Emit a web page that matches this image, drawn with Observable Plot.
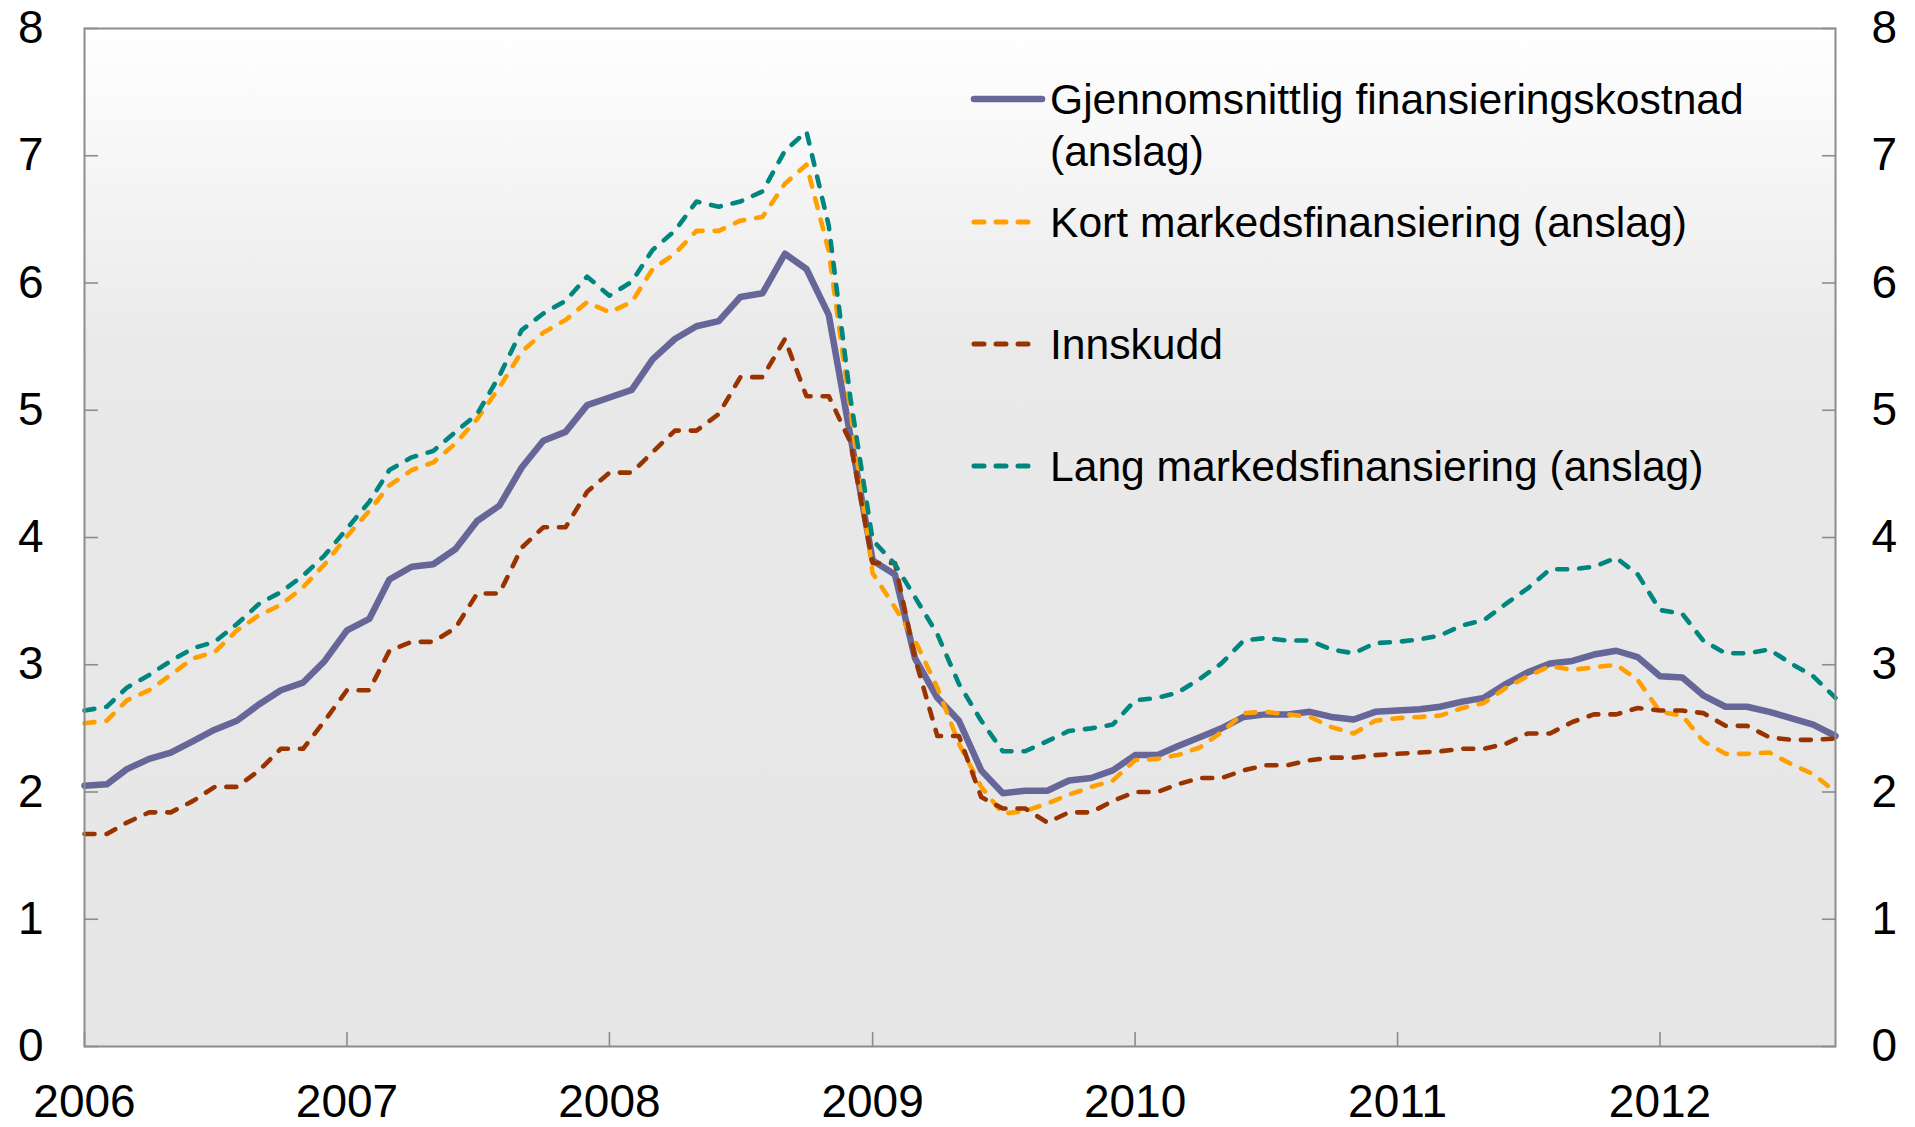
<!DOCTYPE html>
<html>
<head>
<meta charset="utf-8">
<script src="https://cdn.jsdelivr.net/npm/d3@7"></script>
<script src="https://cdn.jsdelivr.net/npm/@observablehq/plot@0.6"></script>
<style>
html, body { margin: 0; padding: 0; background: #ffffff; }
#wrap { position: relative; width: 1915px; height: 1127px; font-family: "Liberation Sans", Arial, sans-serif; }
.leg { position: absolute; left: 970px; font-size: 42.6px; line-height: 52px; color: #000; display: flex; align-items: flex-start; white-space: nowrap; }
.leg svg { flex: none; margin-top: 21px; margin-right: 4px; }
</style>
</head>
<body>
<div id="wrap"></div>
<script>
// Monthly observations, Jan 2006 – Sep 2012 (per cent)
const startMonth = "2006-01";
const gjennomsnitt = [
  2.05, 2.06, 2.18, 2.26, 2.31, 2.40, 2.49, 2.56, 2.69, 2.80, 2.86, 3.03,
  3.27, 3.36, 3.67, 3.77, 3.79, 3.91, 4.13, 4.25, 4.55, 4.76, 4.83, 5.04,
  5.10, 5.16, 5.40, 5.56, 5.66, 5.70, 5.89, 5.92, 6.23, 6.11, 5.75, 4.80,
  3.82, 3.71, 3.05, 2.74, 2.56, 2.17, 1.99, 2.01, 2.01, 2.09, 2.11, 2.17,
  2.29, 2.29, 2.36, 2.43, 2.50, 2.59, 2.61, 2.61, 2.63, 2.59, 2.57, 2.63,
  2.64, 2.65, 2.67, 2.71, 2.74, 2.85, 2.94, 3.01, 3.03, 3.08, 3.11, 3.06,
  2.91, 2.90, 2.76, 2.67, 2.67, 2.63, 2.58, 2.53, 2.44
];
const kort = [
  2.54, 2.56, 2.72, 2.80, 2.92, 3.05, 3.10, 3.27, 3.39, 3.47, 3.61, 3.79,
  4.01, 4.21, 4.41, 4.53, 4.59, 4.74, 4.93, 5.18, 5.46, 5.61, 5.71, 5.85,
  5.77, 5.85, 6.11, 6.23, 6.41, 6.41, 6.49, 6.52, 6.78, 6.93, 6.25, 5.00,
  3.72, 3.45, 3.19, 2.82, 2.38, 2.04, 1.83, 1.85, 1.91, 1.98, 2.04, 2.09,
  2.25, 2.26, 2.29, 2.35, 2.47, 2.62, 2.63, 2.61, 2.59, 2.51, 2.46, 2.56,
  2.58, 2.59, 2.60, 2.66, 2.70, 2.82, 2.91, 2.99, 2.96, 2.98, 3.00, 2.88,
  2.63, 2.60, 2.40, 2.30, 2.30, 2.31, 2.22, 2.14, 2.00
];
const innskudd = [
  1.67, 1.67, 1.76, 1.84, 1.84, 1.93, 2.04, 2.04, 2.17, 2.34, 2.34, 2.56,
  2.80, 2.80, 3.11, 3.18, 3.18, 3.29, 3.56, 3.56, 3.92, 4.08, 4.08, 4.36,
  4.51, 4.51, 4.67, 4.84, 4.84, 4.97, 5.26, 5.26, 5.56, 5.11, 5.11, 4.75,
  3.80, 3.80, 3.05, 2.44, 2.44, 1.96, 1.87, 1.87, 1.76, 1.84, 1.84, 1.93,
  2.00, 2.00, 2.06, 2.11, 2.11, 2.17, 2.21, 2.21, 2.25, 2.27, 2.27, 2.29,
  2.30, 2.31, 2.32, 2.34, 2.34, 2.38, 2.46, 2.46, 2.55, 2.61, 2.61, 2.66,
  2.64, 2.64, 2.62, 2.52, 2.52, 2.43, 2.41, 2.41, 2.42
];
const lang = [
  2.64, 2.67, 2.82, 2.92, 3.03, 3.13, 3.18, 3.32, 3.48, 3.57, 3.70, 3.86,
  4.07, 4.28, 4.53, 4.63, 4.68, 4.83, 4.97, 5.27, 5.63, 5.76, 5.86, 6.05,
  5.90, 6.01, 6.26, 6.41, 6.64, 6.60, 6.64, 6.72, 7.04, 7.19, 6.45, 5.10,
  3.98, 3.79, 3.53, 3.24, 2.85, 2.56, 2.32, 2.32, 2.40, 2.48, 2.50, 2.53,
  2.72, 2.74, 2.78, 2.89, 3.01, 3.19, 3.21, 3.19, 3.19, 3.12, 3.09, 3.17,
  3.18, 3.20, 3.23, 3.31, 3.35, 3.48, 3.60, 3.75, 3.75, 3.77, 3.84, 3.71,
  3.43, 3.40, 3.19, 3.09, 3.09, 3.12, 3.01, 2.91, 2.74
];
const seriesNames = [
  "Gjennomsnittlig finansieringskostnad (anslag)",
  "Kort markedsfinansiering (anslag)",
  "Innskudd",
  "Lang markedsfinansiering (anslag)"
];
const legendLines = [
  ["Gjennomsnittlig finansieringskostnad", "(anslag)"],
  ["Kort markedsfinansiering (anslag)"],
  ["Innskudd"],
  ["Lang markedsfinansiering (anslag)"]
];
const seriesColors = ["#666699", "#ffa000", "#993300", "#00857f"];
const xTickYears = ["2006", "2007", "2008", "2009", "2010", "2011", "2012"];
const yTicks = [0, 1, 2, 3, 4, 5, 6, 7, 8];

// build tidy table
const start = d3.utcParse("%Y-%m")(startMonth);
const allSeries = [gjennomsnitt, kort, innskudd, lang];
const table = [];
allSeries.forEach((vals, s) => vals.forEach((v, i) => table.push({
  date: d3.utcMonth.offset(start, i), value: v, series: seriesNames[s]
})));
const xTicks = xTickYears.map(y => d3.utcParse("%Y")(y));
const endDate = d3.utcMonth.offset(start, gjennomsnitt.length - 1);

const font = "Liberation Sans, Arial, sans-serif";
const frameColor = "#8c8c8c";

const lineMark = (s, opts) => Plot.line(table.filter(d => d.series === seriesNames[s]), {
  x: "date", y: "value", stroke: seriesColors[s], strokeLinejoin: "round", ...opts
});

const chart = Plot.plot({
  width: 1915,
  height: 1127,
  marginLeft: 84,
  marginRight: 80,
  marginTop: 28,
  marginBottom: 81,
  style: { fontFamily: font, background: "transparent", color: "#000" },
  x: { type: "utc", domain: [start, endDate] },
  y: { domain: [0, 8] },
  marks: [
    Plot.frame({ fill: "url(#bgGrad)", stroke: null }),
    lineMark(0, { strokeWidth: 6.5, strokeLinecap: "round" }),
    lineMark(1, { strokeWidth: 4.6, strokeDasharray: "10,12", strokeLinecap: "round" }),
    lineMark(2, { strokeWidth: 4.6, strokeDasharray: "10,12", strokeLinecap: "round" }),
    lineMark(3, { strokeWidth: 4.6, strokeDasharray: "10,12", strokeLinecap: "round" }),
    Plot.frame({ stroke: frameColor, strokeWidth: 2 }),
    // inward tick marks
    Plot.axisY(yTicks, { anchor: "left", tickSize: 14, dx: 14, tickFormat: () => "", stroke: frameColor, strokeWidth: 1.6, label: null }),
    Plot.axisY(yTicks, { anchor: "right", tickSize: 14, dx: -14, tickFormat: () => "", stroke: frameColor, strokeWidth: 1.6, label: null }),
    Plot.axisX(xTicks, { anchor: "bottom", tickSize: 14, dy: -14, tickFormat: () => "", stroke: frameColor, strokeWidth: 1.6, label: null }),
    // tick labels
    Plot.axisY(yTicks, { anchor: "left", tickSize: 0, tickPadding: 41, fontSize: 46, label: null, tickFormat: d => String(d) }),
    Plot.axisY(yTicks, { anchor: "right", tickSize: 0, tickPadding: 36, fontSize: 46, label: null, tickFormat: d => String(d) }),
    Plot.axisX(xTicks, { anchor: "bottom", tickSize: 0, tickPadding: 38, fontSize: 46, label: null, tickFormat: d3.utcFormat("%Y") })
  ]
});

// gradient background for plot area
const ns = "http://www.w3.org/2000/svg";
const defs = document.createElementNS(ns, "defs");
const grad = document.createElementNS(ns, "linearGradient");
grad.setAttribute("id", "bgGrad");
grad.setAttribute("x1", "0"); grad.setAttribute("y1", "0");
grad.setAttribute("x2", "0"); grad.setAttribute("y2", "1");
[["0", "#ffffff"], ["0.32", "#e9e9e9"], ["1", "#e6e6e6"]].forEach(([o, c]) => {
  const st = document.createElementNS(ns, "stop");
  st.setAttribute("offset", o); st.setAttribute("stop-color", c);
  grad.appendChild(st);
});
defs.appendChild(grad);
chart.insertBefore(defs, chart.firstChild);

const wrap = document.getElementById("wrap");
wrap.appendChild(chart);

// legend (HTML overlay)
const legendTops = [73, 196, 318, 440];
legendLines.forEach((lines, s) => {
  const row = document.createElement("div");
  row.className = "leg";
  row.style.top = legendTops[s] + "px";
  const sw = document.createElementNS(ns, "svg");
  sw.setAttribute("width", 76); sw.setAttribute("height", 10);
  const ln = document.createElementNS(ns, "line");
  ln.setAttribute("x1", 4); ln.setAttribute("x2", s === 0 ? 72 : 66);
  ln.setAttribute("y1", 5); ln.setAttribute("y2", 5);
  ln.setAttribute("stroke", seriesColors[s]);
  ln.setAttribute("stroke-linecap", "round");
  ln.setAttribute("stroke-width", s === 0 ? 6.5 : 5);
  if (s !== 0) ln.setAttribute("stroke-dasharray", "10,12");
  sw.appendChild(ln);
  row.appendChild(sw);
  const txt = document.createElement("div");
  txt.innerHTML = lines.join("<br>");
  row.appendChild(txt);
  wrap.appendChild(row);
});
</script>
</body>
</html>
